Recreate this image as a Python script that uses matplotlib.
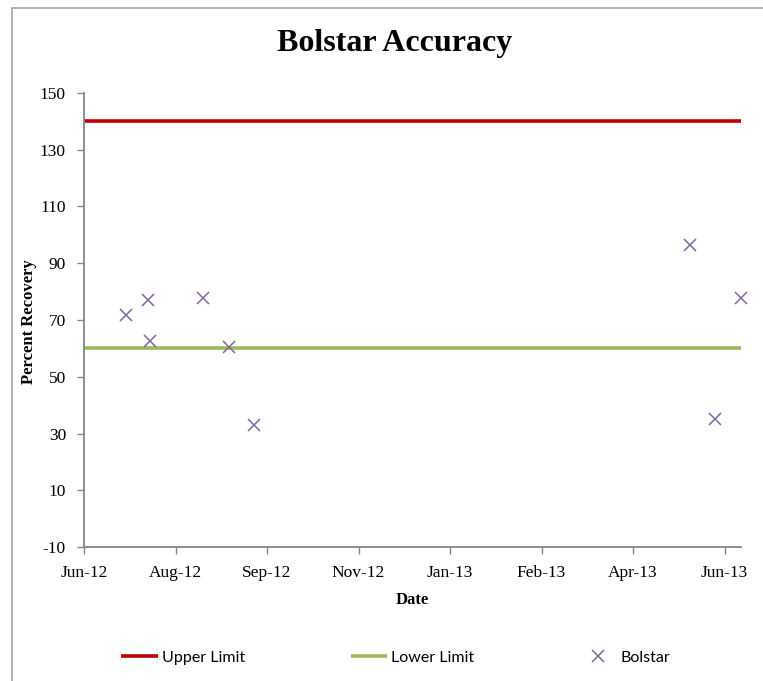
import matplotlib.pyplot as plt
import matplotlib.dates as mdates
from matplotlib.patches import Rectangle
import numpy as np

plt.rcParams["axes.unicode_minus"] = False

# Sample dates and percent recovery
sample_dates = ["2012-07-12", "2012-07-24", "2012-07-25", "2012-08-23", "2012-09-06",
                "2012-09-20", "2013-05-16", "2013-05-30", "2013-06-13"]
recovery = [71.8, 77.0, 62.6, 77.6, 60.5, 33.0, 96.4, 35.1, 77.8]

# Control limits
limit_dates = ["2012-06-19", "2013-06-13"]
upper_limit = [140, 140]
lower_limit = [60, 60]

y_ticks = [-10, 10, 30, 50, 70, 90, 110, 130, 150]

serif = "Liberation Serif"
sans = "Lato"

x_pts = mdates.datestr2num(sample_dates)
x_lim = mdates.datestr2num(limit_dates)

fig = plt.figure(figsize=(7.63, 6.81), dpi=100)
ax = fig.add_axes([84 / 763, 134 / 681, 657 / 763, 454 / 681])

# chart area border (only the left and top edges are visible in the crop)
fig.patches.append(Rectangle((12 / 763, -0.1), 1.2, (681 - 8) / 681 + 0.1,
                             transform=fig.transFigure, fill=False,
                             edgecolor="#a6a6a6", linewidth=1.2))

ax.plot(x_lim, upper_limit, color="#c00000", linewidth=2.6, label="Upper Limit",
        solid_capstyle="butt", clip_on=False)
ax.plot(x_lim, lower_limit, color="#9bbb59", linewidth=2.6, label="Lower Limit",
        solid_capstyle="butt", clip_on=False)
ax.plot(x_pts, recovery, linestyle="none", marker="x", markersize=8.5,
        markeredgewidth=1.1, color="#8064a2", label="Bolstar", clip_on=False)

ax.set_xlim(x_lim[0], x_lim[1])
ax.set_ylim(-10, 150)
ax.set_yticks(y_ticks)
ax.set_xticks(x_lim[0] + np.arange(0, 351, 50))
ax.xaxis.set_major_formatter(mdates.DateFormatter("%b-%y"))

for side in ["top", "right"]:
    ax.spines[side].set_visible(False)
for side in ["left", "bottom"]:
    ax.spines[side].set_color("#868686")
    ax.spines[side].set_linewidth(1.3)
ax.tick_params(direction="out", length=5, width=1, color="#868686",
               labelsize=12.5, pad=8)
for lab in ax.get_xticklabels() + ax.get_yticklabels():
    lab.set_fontfamily(serif)

ax.set_xlabel("Date", fontfamily=serif, fontweight="bold", fontsize=12)
ax.set_ylabel("Percent Recovery", fontfamily=serif, fontweight="bold", fontsize=12)
ax.xaxis.set_label_coords((412 - 84) / 657, -(600 - 547) / 454, transform=ax.transAxes)
ax.yaxis.set_label_coords(-(84 - 29) / 657, (547 - 322) / 454, transform=ax.transAxes)
ax.xaxis.label.set_va("center")
ax.yaxis.label.set_va("center")

fig.text(395 / 763, 1 - 44 / 681, "Bolstar Accuracy", ha="center", va="center",
         fontfamily=serif, fontweight="bold", fontsize=23)

fig.legend(loc="center", bbox_to_anchor=(396 / 763, 1 - 658 / 681), ncol=3,
           frameon=False, prop={"family": sans, "size": 11.5}, handlelength=2.3,
           handletextpad=0.25, columnspacing=6.6)

fig.savefig("out.png", dpi=100)
